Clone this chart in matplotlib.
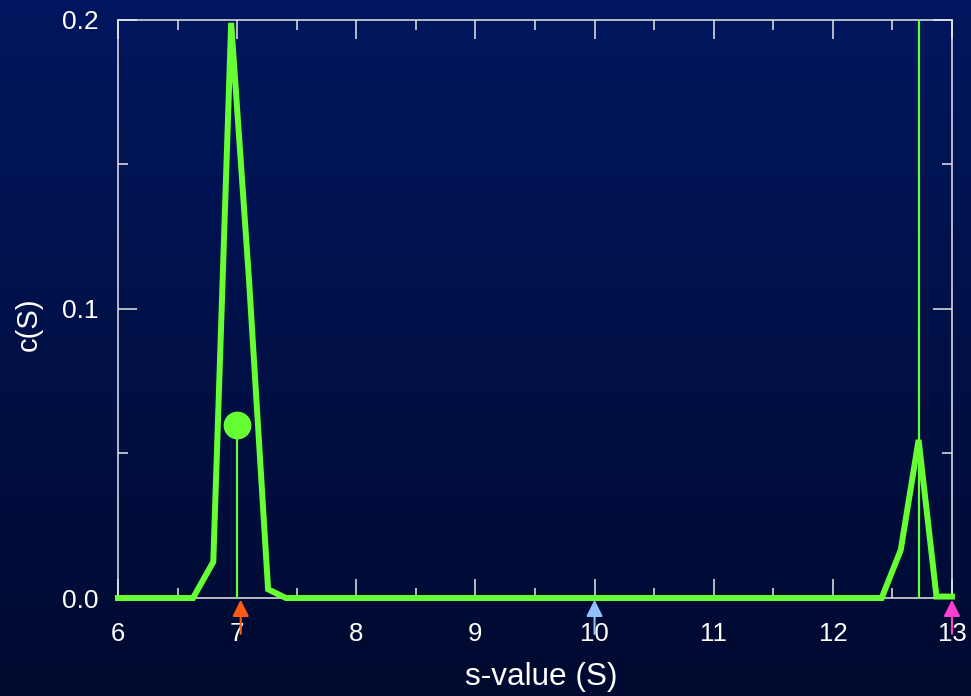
import numpy as np
import matplotlib
matplotlib.use("Agg")
import matplotlib.pyplot as plt
from matplotlib.colors import LinearSegmentedColormap
from matplotlib.ticker import MultipleLocator

plt.rcParams['font.family'] = ['Liberation Sans', 'DejaVu Sans']

# c(S) distribution
s_values = [6.0, 6.63, 6.80, 6.95, 7.10, 7.26, 7.41, 12.41, 12.57, 12.72, 12.87, 13.0]
c_values = [0.0, 0.0, 0.0125, 0.199, 0.11, 0.003, 0.0, 0.0, 0.0166, 0.0547, 0.0005, 0.0005]

# reference stem (position, height) and full-height line position
stem_s, stem_c = 7.0, 0.06
line_s = 12.72

# markers along the s axis
arrow_s = [7.03, 10.0, 13.0]
arrow_colors = ['#ff5a14', '#8fc0ff', '#ff3fd0']

x_ticks = [6, 7, 8, 9, 10, 11, 12, 13]
y_ticks = [0.0, 0.1, 0.2]
y_ticklabels = ['0.0', '0.1', '0.2']

green = '#66ff33'

fig = plt.figure(figsize=(9.71, 6.96), dpi=100)

# background gradient
bg = fig.add_axes([0, 0, 1, 1], zorder=-10)
cmap = LinearSegmentedColormap.from_list('bg', ['#000a30', '#00165e'])
grad = np.linspace(0, 1, 256).reshape(-1, 1)
bg.imshow(grad, aspect='auto', cmap=cmap, origin='lower', extent=[0, 1, 0, 1])
bg.set_axis_off()

ax = fig.add_axes([0.1215, 0.1408, 0.8589, 0.8305])
ax.set_facecolor('none')

ax.plot(s_values, c_values, color=green, lw=4.3, solid_joinstyle='miter', zorder=3, clip_on=False)
ax.plot([stem_s, stem_s], [0, stem_c], color=green, lw=1.6, zorder=3)
ax.plot([stem_s], [stem_c], 'o', color=green, ms=19, zorder=4)
ax.plot([line_s, line_s], [0, 0.2], color=green, lw=1.6, zorder=3)

for s, col in zip(arrow_s, arrow_colors):
    ax.annotate('', xy=(s, -0.003), xycoords=('data', 'axes fraction'),
                xytext=(s, -0.062), textcoords=('data', 'axes fraction'),
                arrowprops=dict(arrowstyle='-|>,head_length=1.0,head_width=0.5',
                                color=col, lw=1.5, shrinkA=0, shrinkB=0),
                annotation_clip=False, zorder=5)

ax.set_xlim(6, 13)
ax.set_ylim(0, 0.2)
ax.set_xticks(x_ticks)
ax.set_yticks(y_ticks)
ax.set_yticklabels(y_ticklabels)
ax.xaxis.set_minor_locator(MultipleLocator(0.5))
ax.yaxis.set_minor_locator(MultipleLocator(0.05))

for sp in ax.spines.values():
    sp.set_color('#e8e8e8')
    sp.set_linewidth(1.1)

ax.tick_params(which='both', direction='in', top=True, right=True, colors='#e8e8e8', width=1.1)
ax.tick_params(which='major', length=13.7)
ax.tick_params(which='minor', length=7.2)
ax.tick_params(axis='x', which='major', labelsize=18.5, labelcolor='white', pad=17)
ax.tick_params(axis='y', which='major', labelsize=19, labelcolor='white', pad=14)

ax.set_xlabel('s-value (S)', fontsize=22.7, color='white')
ax.set_ylabel('c(S)', fontsize=21, color='white')
ax.xaxis.set_label_coords(0.507, -0.11)
ax.yaxis.set_label_coords(-0.090, 0.474)

fig.savefig('out.png', dpi=100)
